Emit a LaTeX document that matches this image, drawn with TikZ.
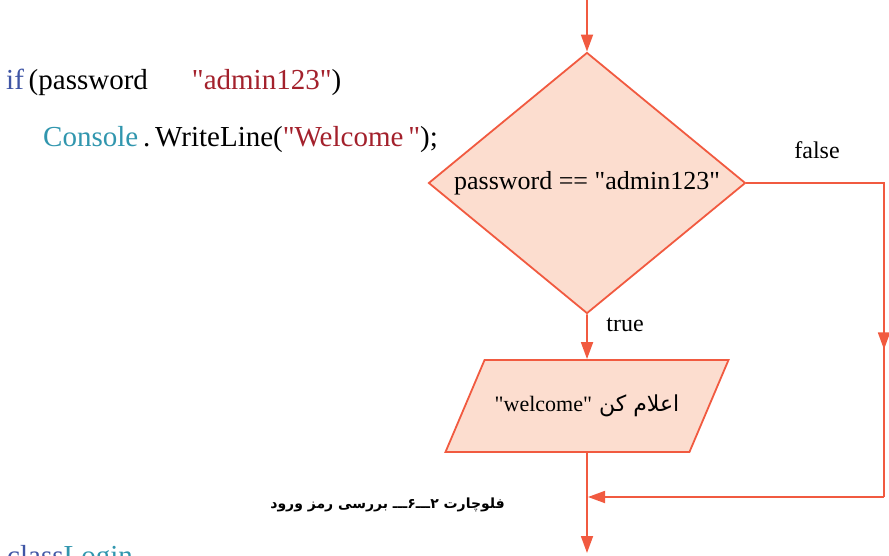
\documentclass[tikz,border=0pt]{standalone}
\usepackage{fontspec}
\setmainfont{Liberation Serif}
\newfontfamily\arabicfont[Script=Arabic]{DejaVu Sans}
\TeXXeTstate=1
\usetikzlibrary{arrows.meta,calc,shapes.geometric}
\definecolor{rojoFC}{HTML}{F15A40}
\definecolor{rosaFC}{HTML}{FCDDCF}
\definecolor{azulKW}{HTML}{3F55A5}
\definecolor{tealCS}{HTML}{3196AE}
\definecolor{rojoST}{HTML}{A3212C}
\newcommand{\cmd}{\textquotedbl}

\begin{document}
\begin{tikzpicture}[x=1pt,y=-1pt,>={Triangle[length=17pt,width=12pt]},
  flecha/.style={draw=rojoFC,line width=1.8pt},
  decision/.style={diamond,aspect=1.21,draw=rojoFC,fill=rosaFC,line width=1.8pt,
    minimum width=317pt,minimum height=261pt,inner sep=0pt,
    font=\fontsize{26}{30}\selectfont},
  entrada/.style={trapezium,trapezium left angle=67,trapezium right angle=113,
    trapezium stretches body,draw=rojoFC,fill=rosaFC,line width=1.8pt,
    minimum width=283pt,text height=16pt,text depth=6pt,inner ysep=35pt,
    font=\fontsize{22}{26}\selectfont},
  etiqueta/.style={inner sep=0pt,font=\fontsize{24}{28}\selectfont},
  codigo/.style={anchor=base west,inner sep=0pt,font=\fontsize{29}{34}\selectfont}]
  \useasboundingbox (0,0) rectangle (889,556);
  % code lines
  \node[codigo] (linea1) at (6,90)
    {\textcolor{azulKW}{if}\,(password\hspace{44pt}\textcolor{rojoST}{\cmd admin123\cmd})};
  \node[codigo] (linea2) at (43,147)
    {\textcolor{tealCS}{Console}\,.\,WriteLine(\textcolor{rojoST}{\cmd Welcome\,\cmd});};
  \node[codigo] (linea3) at (7,565)
    {\textcolor{azulKW}{class}\textcolor{tealCS}{Login}};
  % flowchart
  \node[decision] (cond) at (587,183) {password == \cmd admin123\cmd};
  \node[entrada] (msg) at (587,406)
    {\arabicfont\beginR اعلام کن \beginL{\rmfamily\cmd welcome\cmd}\endL\endR};
  \coordinate (inicio) at (587,0);
  \coordinate (fin) at (587,553);
  \coordinate (esqA) at (884,183);
  \coordinate (esqB) at (884,497);
  \coordinate (union) at (588,497);
  \draw[flecha,->] (inicio) -- (cond.north);
  \draw[flecha,->] (cond.south) -- (msg.north);
  \draw[flecha,->] (msg.south) -- (fin);
  \draw[flecha] (cond.east) -- (esqA) -- (esqB);
  \draw[flecha,->] (esqA) -- ($(esqA)!.53!(esqB)$);
  \draw[flecha,->] (esqB) -- (union);
  \node[etiqueta] (lblF) at (817,150) {false};
  \node[etiqueta] (lblV) at (625,325) {true};
  \node[anchor=east,inner sep=0pt,font=\arabicfont\bfseries\fontsize{14}{17}\selectfont]
    (titulo) at (505,505) {\beginR فلوچارت ۲ـــ۶ـــ بررسی رمز ورود\endR};
\end{tikzpicture}
\end{document}
